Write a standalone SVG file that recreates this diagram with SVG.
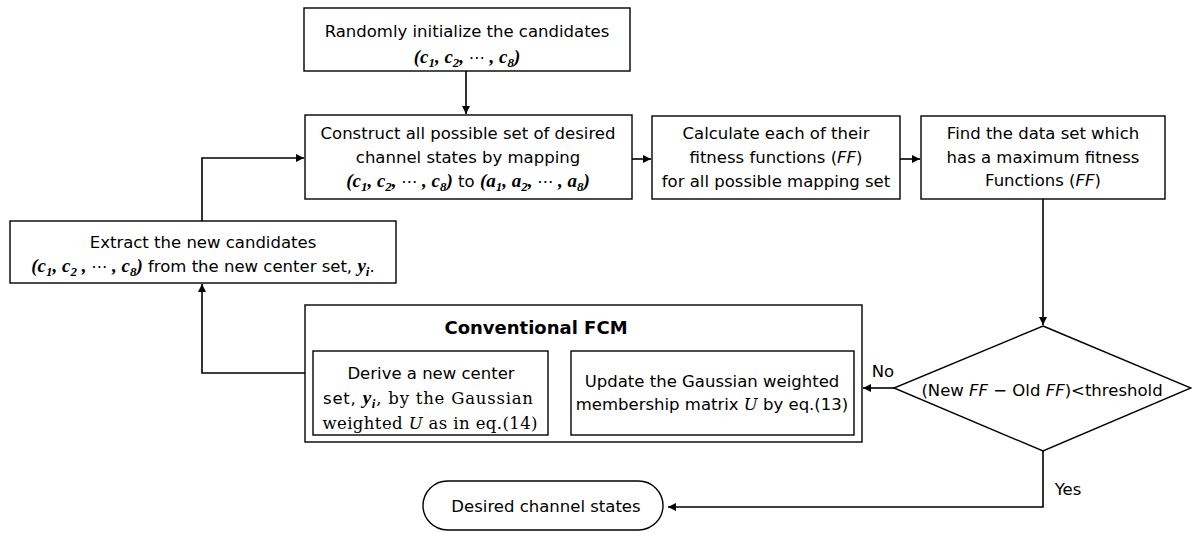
<svg xmlns="http://www.w3.org/2000/svg" width="1192" height="533" viewBox="0 0 1192 533">
<style>
.box{fill:#fff;stroke:#000;stroke-width:1.4}
.t{font-family:"DejaVu Sans",sans-serif;font-size:16.5px;fill:#000;text-anchor:middle}
.s{font-family:"DejaVu Serif",serif}
.m{font-family:"Liberation Serif",serif;font-style:italic;font-weight:bold;font-size:19px}
.sb{font-size:13px}
.d{font-family:"DejaVu Sans",sans-serif;font-size:16px}
.i{font-style:italic}
.b{font-weight:bold;font-size:18px}
.c{fill:none;stroke:#000;stroke-width:1.6}
</style>
<defs>
<marker id="ah" viewBox="0 0 10 10" refX="10" refY="5" markerWidth="10" markerHeight="8" markerUnits="userSpaceOnUse" orient="auto"><path d="M0,0 L10,5 L0,10 z" fill="#000"/></marker>
</defs>
<rect width="1192" height="533" fill="#fff"/>

<g id="connectors">
<path class="c" d="M466,71 V114" marker-end="url(#ah)"/>
<path class="c" d="M632,159 H651" marker-end="url(#ah)"/>
<path class="c" d="M900,159 H920" marker-end="url(#ah)"/>
<path class="c" d="M1043,199 V325" marker-end="url(#ah)"/>
<path class="c" d="M894,388 H863" marker-end="url(#ah)"/>
<path class="c" d="M571,390 H549" marker-end="url(#ah)"/>
<path class="c" d="M305,373 H202 V284" marker-end="url(#ah)"/>
<path class="c" d="M202,221 V158 H304" marker-end="url(#ah)"/>
<path class="c" d="M1043,451 V507 H668" marker-end="url(#ah)"/>
<text class="t" x="883" y="377" font-size="16">No</text>
<text class="t" x="1068" y="495" font-size="16">Yes</text>
</g>

<g id="init">
<rect class="box" x="304" y="8" width="326" height="63"/>
<text class="t" x="467" y="37">Randomly initialize the candidates</text>
<text class="t" x="467" y="63"><tspan class="m">(c</tspan><tspan class="m sb" dy="4">1</tspan><tspan class="m" dy="-4">, c</tspan><tspan class="m sb" dy="4">2</tspan><tspan class="m" dy="-4">, </tspan><tspan class="d">⋯</tspan><tspan class="m"> , c</tspan><tspan class="m sb" dy="4">8</tspan><tspan class="m" dy="-4">)</tspan></text>
</g>

<g id="construct">
<rect class="box" x="305" y="115" width="327" height="84"/>
<text class="t" x="468" y="139">Construct all possible set of desired</text>
<text class="t" x="468" y="163">channel states by mapping</text>
<text class="t" x="468" y="187"><tspan class="m">(c</tspan><tspan class="m sb" dy="4">1</tspan><tspan class="m" dy="-4">, c</tspan><tspan class="m sb" dy="4">2</tspan><tspan class="m" dy="-4">, </tspan><tspan class="d">⋯</tspan><tspan class="m"> , c</tspan><tspan class="m sb" dy="4">8</tspan><tspan class="m" dy="-4">)</tspan><tspan> to </tspan><tspan class="m">(a</tspan><tspan class="m sb" dy="4">1</tspan><tspan class="m" dy="-4">, a</tspan><tspan class="m sb" dy="4">2</tspan><tspan class="m" dy="-4">, </tspan><tspan class="d">⋯</tspan><tspan class="m"> , a</tspan><tspan class="m sb" dy="4">8</tspan><tspan class="m" dy="-4">)</tspan></text>
</g>

<g id="calculate">
<rect class="box" x="652" y="116" width="248" height="83"/>
<text class="t" x="776" y="139">Calculate each of their</text>
<text class="t" x="776" y="163">fitness functions (<tspan class="i">FF</tspan>)</text>
<text class="t" x="776" y="187">for all possible mapping set</text>
</g>

<g id="find">
<rect class="box" x="921" y="116" width="244" height="83"/>
<text class="t" x="1043" y="139">Find the data set which</text>
<text class="t" x="1043" y="163">has a maximum fitness</text>
<text class="t" x="1043" y="186">Functions (<tspan class="i">FF</tspan>)</text>
</g>

<g id="decision">
<path class="box" d="M1043,326 L1191,388 L1043,451 L894,388 Z"/>
<text class="t" x="1042" y="396">(New <tspan class="i">FF</tspan> − Old <tspan class="i">FF</tspan>)&lt;threshold</text>
</g>

<g id="fcm">
<rect class="box" x="305" y="305" width="557" height="137"/>
<text class="t b" x="536" y="334">Conventional FCM</text>
</g>

<g id="update">
<rect class="box" x="571" y="351" width="283" height="84"/>
<text class="t" x="712" y="387">Update the Gaussian weighted</text>
<text class="t" x="712" y="410">membership matrix <tspan class="s i">U</tspan> by eq.(13)</text>
</g>

<g id="derive">
<rect class="box" x="313" y="351" width="235" height="84"/>
<text class="t" x="431" y="379">Derive a new center</text>
<text class="t" x="428" y="404" textLength="210" lengthAdjust="spacing">set, <tspan class="m">y</tspan><tspan class="m sb" dy="4">i</tspan><tspan class="s" dy="-4">, by the Gaussian</tspan></text>
<text class="t s" x="430" y="429" textLength="215" lengthAdjust="spacing">weighted <tspan class="i">U</tspan> as in eq.(14)</text>
</g>

<g id="extract">
<rect class="box" x="10" y="221" width="386" height="62"/>
<text class="t" x="203" y="248">Extract the new candidates</text>
<text class="t" x="203" y="272"><tspan class="m">(c</tspan><tspan class="m sb" dy="4">1</tspan><tspan class="m" dy="-4">, c</tspan><tspan class="m sb" dy="4">2</tspan><tspan class="m" dy="-4"> , </tspan><tspan class="d">⋯</tspan><tspan class="m"> , c</tspan><tspan class="m sb" dy="4">8</tspan><tspan class="m" dy="-4">)</tspan><tspan> from the new center set, </tspan><tspan class="m">y</tspan><tspan class="m sb" dy="4">i</tspan><tspan dy="-4">.</tspan></text>
</g>

<g id="desired">
<rect class="box" x="423" y="481" width="240" height="49" rx="24.5"/>
<text class="t" x="546" y="512">Desired channel states</text>
</g>
</svg>
